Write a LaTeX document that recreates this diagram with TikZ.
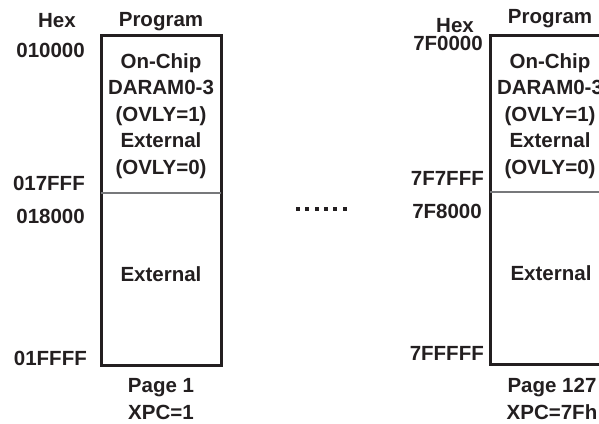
\documentclass[tikz,border=0pt]{standalone}
\usepackage{fontspec}
\setmainfont{Liberation Sans}
\usetikzlibrary{positioning}
\definecolor{ink}{HTML}{231F20}
\definecolor{rule}{HTML}{77787B}
\tikzset{lbl/.style={font=\fontsize{20.5}{26.6}\selectfont\bfseries,text=ink,inner sep=0pt,align=center},
 addr/.style={lbl,anchor=east},
 mem/.style={draw=ink,line width=3pt},
 split/.style={draw=rule,line width=1.2pt}}

\begin{document}
\begin{tikzpicture}[x=1pt,y=-1pt]
\clip (0,0) rectangle (599,423);
% page 1
\draw[mem] (101,35) rectangle (221,365);
\draw[split] (101,193) -- (221,193);
\node[lbl] (hexa) at (57,21) {Hex};
\node[lbl] (proga) at (161,22) {Program};
\node[addr] (starta) at (85,50) {010000};
\node[addr] (enda) at (85,183) {017FFF};
\node[addr] (extsa) at (85,216) {018000};
\node[addr] (extea) at (87,358) {01FFFF};
\node[lbl] (chipa) at (161,116) {On-Chip\\DARAM0-3\\(OVLY=1)\\External\\(OVLY=0)};
\node[lbl] (exta) at (161,274) {External};
\node[lbl] (pagea) at (161,399) {Page 1\\XPC=1};
% gap between pages
\foreach \i in {0,...,5}
  \fill[ink] (296+\i*9.3,207) rectangle ++(4,4);
% page 127
\draw[mem] (490,35) rectangle (612,364);
\draw[split] (490,192) -- (612,192);
\node[lbl] (hexb) at (455,26) {Hex};
\node[lbl] (progb) at (550,19) {Program};
\node[addr] (startb) at (483,43) {7F0000};
\node[addr] (endb) at (484,178) {7F7FFF};
\node[addr] (extsb) at (482,211) {7F8000};
\node[addr] (exteb) at (484,353) {7FFFFF};
\node[lbl] (chipb) at (550,116) {On-Chip\\DARAM0-3\\(OVLY=1)\\External\\(OVLY=0)};
\node[lbl] (extb) at (551,273) {External};
\node[lbl] (pageb) at (552,399) {Page 127\\XPC=7Fh};
\end{tikzpicture}
\end{document}
